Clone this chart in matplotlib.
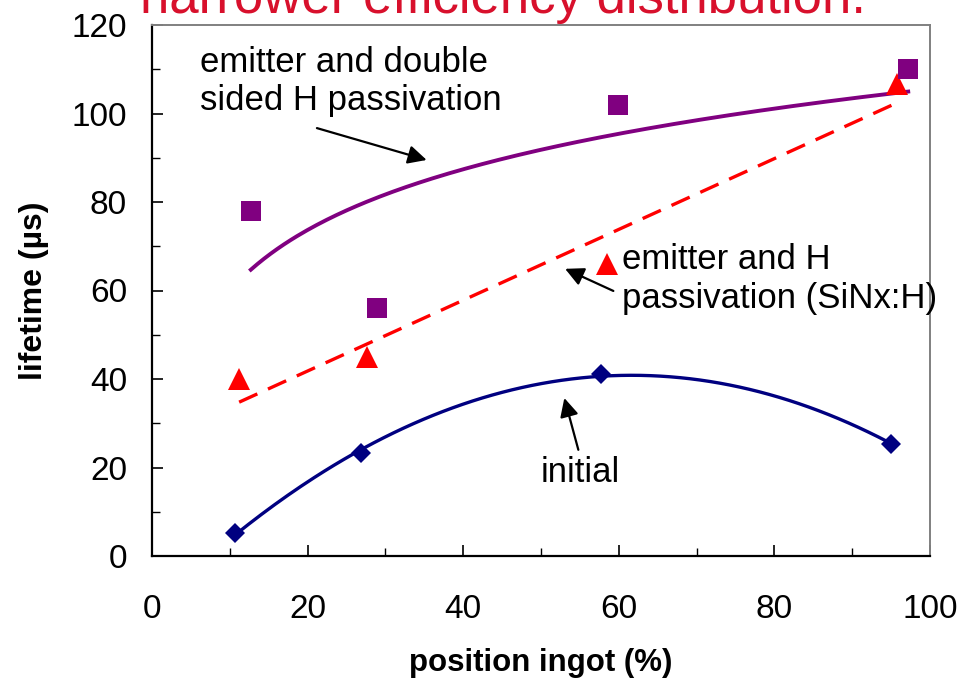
import numpy as np
import matplotlib
matplotlib.use("Agg")
import matplotlib.pyplot as plt
from matplotlib.ticker import MultipleLocator

plt.rcParams['font.family'] = ['Liberation Sans', 'DejaVu Sans']

# Measured lifetimes along the ingot
x_initial = [10.7, 26.9, 57.7, 95.0]
y_initial = [5.2, 23.3, 41.1, 25.3]

x_sinx = [11.2, 27.6, 58.5, 95.8]
y_sinx = [40.0, 45.0, 66.0, 106.7]

x_double = [12.7, 28.9, 59.9, 97.2]
y_double = [78.0, 56.0, 102.0, 110.0]

x_ticks = [0, 20, 40, 60, 80, 100]
y_ticks = [0, 20, 40, 60, 80, 100, 120]

navy = '#000080'
red = '#FF0000'
purple = '#800080'

fig = plt.figure(figsize=(9.63, 6.81), dpi=100)
ax = fig.add_axes([152 / 963, 1 - 556 / 681, (930 - 152) / 963, (556 - 25) / 681])

# Trend lines (quadratic, linear, logarithmic)
xi = np.linspace(min(x_initial), max(x_initial), 200)
pi = np.polyfit(x_initial, y_initial, 2)
ax.plot(xi, np.polyval(pi, xi), color=navy, lw=2.4, zorder=2)

xs = np.linspace(min(x_sinx), max(x_sinx), 200)
ps = np.polyfit(x_sinx, y_sinx, 1)
ax.plot(xs, np.polyval(ps, xs), color=red, lw=2.4, dashes=(6, 3.5), zorder=2)

xd = np.linspace(min(x_double), max(x_double), 200)
pdd = np.polyfit(np.log(x_double), y_double, 1)
ax.plot(xd, np.polyval(pdd, np.log(xd)), color=purple, lw=2.8, zorder=2)

# Data points
ax.plot(x_initial, y_initial, 'D', color=navy, ms=10.5, mew=0, zorder=3)
ax.plot(x_sinx, y_sinx, '^', color=red, ms=16, mew=0, zorder=3)
ax.plot(x_double, y_double, 's', color=purple, ms=14.5, mew=0, zorder=3)

ax.set_xlim(0, 100)
ax.set_ylim(0, 120)
ax.xaxis.set_major_locator(MultipleLocator(20))
ax.xaxis.set_minor_locator(MultipleLocator(10))
ax.yaxis.set_major_locator(MultipleLocator(20))
ax.yaxis.set_minor_locator(MultipleLocator(10))
ax.set_xticks(x_ticks)
ax.set_yticks(y_ticks)
ax.tick_params(which='major', direction='in', length=8, width=1.2, labelsize=24)
ax.tick_params(which='minor', direction='in', length=6, width=1.0)
ax.tick_params(axis='x', pad=27)
ax.tick_params(axis='y', pad=18)

for s in ('left', 'bottom'):
    ax.spines[s].set_color('black')
    ax.spines[s].set_linewidth(1.6)
for s in ('top', 'right'):
    ax.spines[s].set_color('#808080')
    ax.spines[s].set_linewidth(1.4)

ax.set_xlabel('position ingot (%)', fontsize=22.5, fontweight='bold', labelpad=17)
ax.set_ylabel('lifetime (\u00b5s)', fontsize=23, fontweight='bold', labelpad=16)

arrow = dict(arrowstyle='-|>', color='black', lw=1.6, mutation_scale=28, shrinkA=0, shrinkB=0)

ax.text(6.2, 107.3, 'emitter and double\nsided H passivation', fontsize=25,
        ha='left', va='center', linespacing=1.2)
ax.annotate('', xy=(35.3, 89.5), xytext=(21.2, 96.7), arrowprops=arrow)

ax.text(60.4, 62.6, 'emitter and H\npassivation (SiNx:H)', fontsize=25,
        ha='left', va='center', linespacing=1.2, clip_on=False, zorder=5)
ax.annotate('', xy=(53.1, 64.9), xytext=(59.3, 59.9), arrowprops=arrow)

ax.text(55.0, 18.8, 'initial', fontsize=25, ha='center', va='center')
ax.annotate('', xy=(53.0, 35.7), xytext=(54.8, 24.0), arrowprops=arrow)

fig.text(503 / 963, 1 - 13 / 681, 'narrower efficiency distribution.', color='#D8102C',
         fontsize=38, ha='center', va='baseline')

fig.savefig('out.png', dpi=100)
